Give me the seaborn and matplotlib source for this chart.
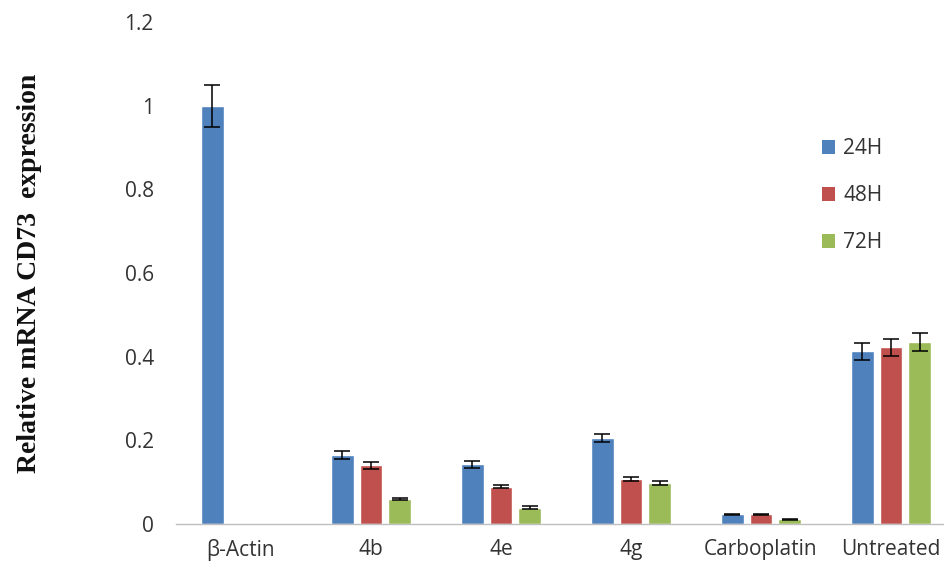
import numpy as np
import pandas as pd
import matplotlib
matplotlib.use("Agg")
import matplotlib.pyplot as plt
import seaborn as sns
from matplotlib.patches import Patch
from matplotlib.container import BarContainer

# values
categories = ["β-Actin", "4b", "4e", "4g", "Carboplatin", "Untreated"]
times = ["24H", "48H", "72H"]
vals_24h = [1.0, 0.165, 0.143, 0.205, 0.023, 0.413]
vals_48h = [np.nan, 0.140, 0.089, 0.108, 0.023, 0.422]
vals_72h = [np.nan, 0.060, 0.039, 0.098, 0.011, 0.435]
err_24h = [0.050, 0.009, 0.008, 0.009, 0.002, 0.020]
err_48h = [0.0, 0.008, 0.004, 0.005, 0.002, 0.021]
err_72h = [0.0, 0.003, 0.004, 0.005, 0.001, 0.021]

colors = ["#4F81BD", "#C0504D", "#9BBB59"]

df = pd.DataFrame({
    "cat": categories * 3,
    "time": [t for t in times for _ in categories],
    "val": vals_24h + vals_48h + vals_72h,
})
errs = [err_24h, err_48h, err_72h]

sns.set_style("white")
plt.rcParams["font.family"] = ["Open Sans", "DejaVu Sans"]

fig = plt.figure(figsize=(9.45, 5.68), dpi=100)
ax = fig.add_axes([176 / 945, 44 / 568, 780 / 945, 502 / 568])

sns.barplot(data=df, x="cat", y="val", hue="time", order=categories,
            hue_order=times, palette=colors, width=0.66, gap=0.2,
            errorbar=None, saturation=1, ax=ax, legend=False)

# error bars (snapshot the bar containers first)
bar_conts = [c for c in ax.containers if isinstance(c, BarContainer)]
for hi, cont in enumerate(bar_conts):
    for bar in cont:
        h = bar.get_height()
        if np.isnan(h) or h == 0:
            continue
        xc = bar.get_x() + bar.get_width() / 2
        ci = int(round(xc))
        e = errs[hi][ci]
        if e > 0:
            ax.errorbar(xc, h, yerr=e, fmt="none", ecolor="black",
                        elinewidth=1.1, capsize=5.5, capthick=1.1)

ax.set_xlim(-0.5, 5.5)
ax.set_ylim(0, 1.2)
ax.set_yticks([0, 0.2, 0.4, 0.6, 0.8, 1.0, 1.2])
ax.set_yticklabels(["0", "0.2", "0.4", "0.6", "0.8", "1", "1.2"])
ax.set_xlabel("")
ax.set_ylabel("Relative mRNA CD73  expression", family="Liberation Serif",
              fontweight="bold", fontsize=20, color="#111111")
ax.yaxis.set_label_coords(-0.172, 0.5)

for s in ["top", "right", "left"]:
    ax.spines[s].set_visible(False)
ax.spines["bottom"].set_color("#BFBFBF")
ax.spines["bottom"].set_linewidth(1.0)

# category boundary ticks like the original
ax.set_xticks(np.arange(6))
ax.set_xticks(np.arange(-0.5, 6.0, 1.0), minor=True)
ax.tick_params(axis="x", which="major", length=0, labelsize=15,
               pad=11, labelcolor="#333333")
ax.tick_params(axis="x", which="minor", length=8, width=1.0,
               color="#BFBFBF", direction="out")
ax.tick_params(axis="y", length=0, labelsize=15, pad=16,
               labelcolor="#333333")

handles = [Patch(facecolor=c, edgecolor="none") for c in colors]
ax.legend(handles, times, loc="upper left", bbox_to_anchor=(0.804, 0.806),
          frameon=False, fontsize=15, handlelength=0.62, handleheight=0.62,
          handletextpad=0.4, labelspacing=1.25, labelcolor="#333333")

fig.savefig("out.png", dpi=100)
